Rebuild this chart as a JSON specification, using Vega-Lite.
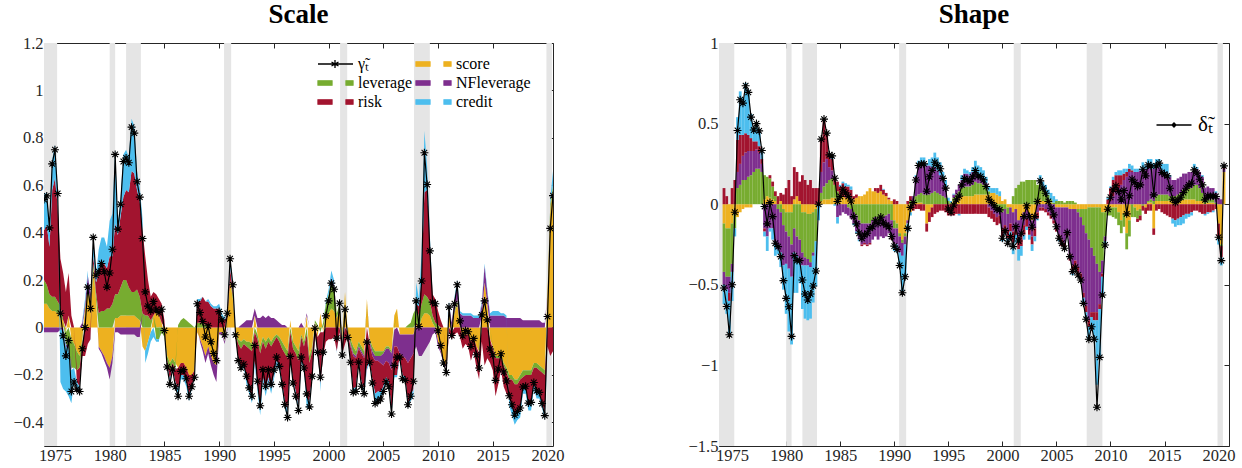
{
"$schema":"https://vega.github.io/schema/vega-lite/v6.json",
"background":"white",
"padding":{"left":12,"top":0,"right":12,"bottom":0},
"spacing":122,
"config":{
 "font":"Times New Roman, Liberation Serif, serif",
 "view":{"stroke":"#262626","strokeWidth":1},
 "axis":{"domain":false,"grid":false,"ticks":true,"tickSize":-5,"tickColor":"#262626","labelFont":"Times New Roman, Liberation Serif, serif","labelFontSize":16.5,"labelColor":"#262626","labelPadding":6},
 "title":{"font":"Times New Roman, Liberation Serif, serif","fontSize":27,"fontWeight":"bold","color":"black","offset":6}
},
"resolve":{"scale":{"color":"independent","stroke":"independent"},"legend":{"color":"independent","stroke":"independent"}},
"datasets":{
"comp":[{"k":"s","o":1,"name":"score"},{"k":"l","o":2,"name":"leverage"},{"k":"n","o":3,"name":"NFleverage"},{"k":"r","o":4,"name":"risk"},{"k":"c","o":5,"name":"credit"}],
"bands":[{"x0":1973.5,"x1":1975.2},{"x0":1980.0,"x1":1980.5},{"x0":1981.5,"x1":1982.85},{"x0":1990.45,"x1":1991.1},{"x0":2001.05,"x1":2001.7},{"x0":2007.8,"x1":2009.25},{"x0":2019.9,"x1":2020.4}],
"left":[
{"t":1974,"g":0.54,"s":0.1,"l":0.1,"n":-0.02,"r":0.21,"c":0.15},
{"t":1974.25,"g":0.555,"s":0.1,"l":0.08,"n":-0.02,"r":0.25,"c":0.14},
{"t":1974.5,"g":0.42,"s":0.08,"l":0.06,"n":-0.02,"r":0.2,"c":0.1},
{"t":1974.75,"g":0.69,"s":0.07,"l":0.06,"n":-0.02,"r":0.45,"c":0.13},
{"t":1975,"g":0.75,"s":0.07,"l":0.06,"n":-0.02,"r":0.5,"c":0.14},
{"t":1975.25,"g":0.565,"s":0.06,"l":0.05,"n":-0.02,"r":0.4,"c":0.07},
{"t":1975.5,"g":0.06,"s":0.04,"l":0.05,"n":-0.01,"r":0.2,"c":-0.22},
{"t":1975.75,"g":-0.035,"s":0.03,"l":0,"n":-0.01,"r":0.2,"c":-0.25},
{"t":1976,"g":-0.12,"s":-0.02,"l":-0.05,"n":-0.01,"r":0.15,"c":-0.19},
{"t":1976.25,"g":-0.055,"s":0.05,"l":-0.08,"n":-0.01,"r":0.18,"c":-0.2},
{"t":1976.5,"g":-0.27,"s":-0.05,"l":-0.12,"n":-0.01,"r":0.05,"c":-0.14},
{"t":1976.75,"g":-0.23,"s":-0.07,"l":-0.1,"n":0,"r":0,"c":-0.06},
{"t":1977,"g":-0.26,"s":-0.1,"l":-0.08,"n":0,"r":-0.05,"c":-0.03},
{"t":1977.25,"g":-0.27,"s":-0.12,"l":-0.05,"n":0,"r":-0.08,"c":-0.02},
{"t":1977.5,"g":-0.09,"s":-0.05,"l":-0.02,"n":0.02,"r":-0.05,"c":0.01},
{"t":1977.75,"g":0.0,"s":0.08,"l":0,"n":0.02,"r":-0.12,"c":0.02},
{"t":1978,"g":0.17,"s":0.17,"l":0,"n":0.05,"r":-0.07,"c":0.02},
{"t":1978.25,"g":0.08,"s":0.12,"l":0,"n":0.02,"r":-0.05,"c":-0.01},
{"t":1978.5,"g":0.38,"s":0.25,"l":0.02,"n":0,"r":0.03,"c":0.08},
{"t":1978.75,"g":0.22,"s":0.12,"l":0.03,"n":0,"r":0.04,"c":0.03},
{"t":1979,"g":0.235,"s":-0.08,"l":0.06,"n":-0.01,"r":0.17,"c":0.1},
{"t":1979.25,"g":0.27,"s":-0.1,"l":0.07,"n":-0.01,"r":0.2,"c":0.11},
{"t":1979.5,"g":0.235,"s":-0.12,"l":0.07,"n":-0.02,"r":0.2,"c":0.11},
{"t":1979.75,"g":0.17,"s":-0.15,"l":0.08,"n":-0.02,"r":0.17,"c":0.09},
{"t":1980,"g":0.23,"s":-0.17,"l":0.08,"n":-0.05,"r":0.22,"c":0.15},
{"t":1980.25,"g":0.33,"s":-0.12,"l":0.1,"n":-0.03,"r":0.2,"c":0.18},
{"t":1980.5,"g":0.73,"s":0.04,"l":0.1,"n":-0.02,"r":0.3,"c":0.31},
{"t":1980.75,"g":0.415,"s":0.04,"l":0.1,"n":-0.02,"r":0.25,"c":0.04},
{"t":1981,"g":0.52,"s":0.05,"l":0.12,"n":-0.03,"r":0.3,"c":0.08},
{"t":1981.25,"g":0.7,"s":0.05,"l":0.15,"n":-0.03,"r":0.35,"c":0.18},
{"t":1981.5,"g":0.715,"s":0.05,"l":0.15,"n":-0.03,"r":0.38,"c":0.17},
{"t":1981.75,"g":0.695,"s":0.05,"l":0.12,"n":-0.03,"r":0.4,"c":0.15},
{"t":1982,"g":0.845,"s":0.05,"l":0.1,"n":-0.03,"r":0.51,"c":0.22},
{"t":1982.25,"g":0.82,"s":0.05,"l":0.1,"n":-0.03,"r":0.5,"c":0.2},
{"t":1982.5,"g":0.615,"s":0.04,"l":0.12,"n":-0.04,"r":0.42,"c":0.08},
{"t":1982.75,"g":0.55,"s":0.03,"l":0.1,"n":-0.04,"r":0.4,"c":0.06},
{"t":1983,"g":0.375,"s":-0.08,"l":0.06,"n":0,"r":0.35,"c":0.05},
{"t":1983.25,"g":0.15,"s":-0.1,"l":0.05,"n":0,"r":0.25,"c":-0.05},
{"t":1983.5,"g":0.09,"s":-0.06,"l":0.05,"n":0,"r":0.15,"c":-0.05},
{"t":1983.75,"g":0.07,"s":-0.02,"l":0.03,"n":0,"r":0.1,"c":-0.04},
{"t":1984,"g":0.11,"s":0.05,"l":0,"n":0,"r":0.1,"c":-0.04},
{"t":1984.25,"g":0.075,"s":0.07,"l":-0.05,"n":0,"r":0.07,"c":-0.01},
{"t":1984.5,"g":0.063,"s":0.05,"l":-0.05,"n":0,"r":0.07,"c":-0.01},
{"t":1984.75,"g":0.077,"s":0.02,"l":-0.02,"n":0,"r":0.08,"c":0},
{"t":1985,"g":-0.013,"s":-0.03,"l":-0.01,"n":0,"r":0.03,"c":0},
{"t":1985.25,"g":-0.167,"s":-0.12,"l":-0.02,"n":0,"r":-0.02,"c":-0.01},
{"t":1985.5,"g":-0.24,"s":-0.15,"l":-0.03,"n":0,"r":-0.04,"c":-0.02},
{"t":1985.75,"g":-0.175,"s":-0.13,"l":-0.02,"n":0,"r":-0.02,"c":-0.01},
{"t":1986,"g":-0.25,"s":-0.15,"l":-0.03,"n":0,"r":-0.05,"c":-0.02},
{"t":1986.25,"g":-0.29,"s":-0.17,"l":0.01,"n":0,"r":-0.09,"c":-0.04},
{"t":1986.5,"g":-0.185,"s":-0.15,"l":0.03,"n":0,"r":-0.05,"c":-0.02},
{"t":1986.75,"g":-0.178,"s":-0.15,"l":0.04,"n":0,"r":-0.05,"c":-0.02},
{"t":1987,"g":-0.216,"s":-0.17,"l":0.03,"n":0,"r":-0.06,"c":-0.02},
{"t":1987.25,"g":-0.29,"s":-0.2,"l":0.02,"n":0,"r":-0.08,"c":-0.03},
{"t":1987.5,"g":-0.25,"s":-0.2,"l":0.01,"n":0,"r":-0.05,"c":-0.01},
{"t":1987.75,"g":-0.21,"s":-0.18,"l":0,"n":0,"r":-0.02,"c":-0.01},
{"t":1988,"g":0.1,"s":-0.02,"l":0.02,"n":0,"r":0.09,"c":0.01},
{"t":1988.25,"g":0.063,"s":-0.05,"l":0.02,"n":-0.01,"r":0.09,"c":0.01},
{"t":1988.5,"g":0.025,"s":-0.08,"l":0.02,"n":-0.02,"r":0.11,"c":0},
{"t":1988.75,"g":-0.04,"s":-0.12,"l":0.01,"n":-0.03,"r":0.1,"c":0},
{"t":1989,"g":0.007,"s":-0.08,"l":0.01,"n":-0.03,"r":0.1,"c":0.01},
{"t":1989.25,"g":-0.06,"s":-0.12,"l":0,"n":-0.04,"r":0.09,"c":0.01},
{"t":1989.5,"g":-0.11,"s":-0.15,"l":0,"n":-0.05,"r":0.08,"c":0.01},
{"t":1989.75,"g":-0.14,"s":-0.16,"l":0,"n":-0.07,"r":0.08,"c":0.01},
{"t":1990,"g":0.067,"s":-0.02,"l":0,"n":-0.01,"r":0.08,"c":0.02},
{"t":1990.25,"g":0.032,"s":-0.02,"l":0,"n":-0.01,"r":0.04,"c":0.02},
{"t":1990.5,"g":-0.031,"s":-0.05,"l":-0.01,"n":-0.01,"r":0.03,"c":0.01},
{"t":1990.75,"g":0.06,"s":0.05,"l":0,"n":-0.01,"r":0.01,"c":0.01},
{"t":1991,"g":0.29,"s":0.2,"l":0,"n":0,"r":0.05,"c":0.04},
{"t":1991.25,"g":0.18,"s":0.12,"l":0.02,"n":0,"r":0.02,"c":0.02},
{"t":1991.5,"g":-0.031,"s":-0.02,"l":-0.01,"n":0,"r":-0.01,"c":0},
{"t":1991.75,"g":-0.14,"s":-0.05,"l":-0.02,"n":0,"r":-0.06,"c":-0.01},
{"t":1992,"g":-0.17,"s":-0.06,"l":-0.03,"n":0.01,"r":-0.08,"c":-0.01},
{"t":1992.25,"g":-0.155,"s":-0.05,"l":-0.02,"n":0.02,"r":-0.09,"c":-0.01},
{"t":1992.5,"g":-0.206,"s":-0.06,"l":-0.02,"n":0.03,"r":-0.14,"c":-0.02},
{"t":1992.75,"g":-0.255,"s":-0.06,"l":-0.03,"n":0.03,"r":-0.17,"c":-0.02},
{"t":1993,"g":-0.29,"s":-0.07,"l":-0.03,"n":0.03,"r":-0.2,"c":-0.02},
{"t":1993.25,"g":-0.076,"s":0.05,"l":-0.02,"n":0.03,"r":-0.12,"c":-0.02},
{"t":1993.5,"g":-0.227,"s":-0.03,"l":-0.02,"n":0.04,"r":-0.2,"c":-0.02},
{"t":1993.75,"g":-0.33,"s":-0.08,"l":-0.03,"n":0.04,"r":-0.23,"c":-0.03},
{"t":1994,"g":-0.178,"s":-0.04,"l":-0.02,"n":0.05,"r":-0.15,"c":-0.02},
{"t":1994.25,"g":-0.248,"s":-0.06,"l":-0.03,"n":0.04,"r":-0.18,"c":-0.02},
{"t":1994.5,"g":-0.178,"s":-0.04,"l":-0.02,"n":0.05,"r":-0.15,"c":-0.02},
{"t":1994.75,"g":-0.24,"s":-0.06,"l":-0.02,"n":0.04,"r":-0.18,"c":-0.02},
{"t":1995,"g":-0.18,"s":-0.04,"l":-0.02,"n":0.04,"r":-0.14,"c":-0.02},
{"t":1995.25,"g":-0.125,"s":-0.03,"l":-0.01,"n":0.03,"r":-0.1,"c":-0.02},
{"t":1995.5,"g":-0.164,"s":-0.04,"l":-0.02,"n":0.02,"r":-0.1,"c":-0.02},
{"t":1995.75,"g":-0.24,"s":-0.06,"l":-0.03,"n":0.01,"r":-0.14,"c":-0.02},
{"t":1996,"g":-0.325,"s":-0.08,"l":-0.03,"n":0.01,"r":-0.2,"c":-0.03},
{"t":1996.25,"g":-0.38,"s":-0.1,"l":-0.03,"n":0,"r":-0.22,"c":-0.03},
{"t":1996.5,"g":-0.122,"s":0.03,"l":-0.02,"n":0,"r":-0.12,"c":-0.01},
{"t":1996.75,"g":-0.234,"s":-0.06,"l":-0.03,"n":0,"r":-0.13,"c":-0.01},
{"t":1997,"g":-0.29,"s":-0.08,"l":-0.03,"n":0,"r":-0.16,"c":-0.02},
{"t":1997.25,"g":-0.35,"s":-0.1,"l":-0.04,"n":0,"r":-0.19,"c":-0.02},
{"t":1997.5,"g":-0.125,"s":-0.03,"l":-0.01,"n":0.02,"r":-0.1,"c":-0.01},
{"t":1997.75,"g":-0.171,"s":-0.06,"l":-0.02,"n":0,"r":-0.08,"c":-0.01},
{"t":1998,"g":-0.28,"s":0.05,"l":-0.03,"n":0.01,"r":-0.27,"c":-0.04},
{"t":1998.25,"g":-0.335,"s":-0.12,"l":-0.03,"n":0,"r":-0.16,"c":-0.03},
{"t":1998.5,"g":-0.206,"s":-0.08,"l":-0.02,"n":0,"r":-0.1,"c":-0.01},
{"t":1998.75,"g":-0.003,"s":0.02,"l":0.01,"n":0,"r":-0.03,"c":0},
{"t":1999,"g":-0.105,"s":-0.04,"l":0.01,"n":0,"r":-0.07,"c":0},
{"t":1999.25,"g":-0.21,"s":0.06,"l":-0.02,"n":0,"r":-0.22,"c":-0.03},
{"t":1999.5,"g":-0.104,"s":-0.02,"l":0.02,"n":0,"r":-0.1,"c":0},
{"t":1999.75,"g":0.049,"s":0.05,"l":0.05,"n":0,"r":-0.06,"c":0.01},
{"t":2000,"g":0.112,"s":0.06,"l":0.08,"n":0,"r":-0.05,"c":0.02},
{"t":2000.25,"g":0.187,"s":0.08,"l":0.12,"n":0.01,"r":-0.05,"c":0.03},
{"t":2000.5,"g":0.161,"s":0.07,"l":0.1,"n":0.01,"r":-0.04,"c":0.02},
{"t":2000.75,"g":-0.045,"s":0.04,"l":0.02,"n":0,"r":-0.1,"c":-0.01},
{"t":2001,"g":0.102,"s":0.08,"l":0.02,"n":0,"r":-0.02,"c":0.02},
{"t":2001.25,"g":-0.116,"s":-0.04,"l":-0.02,"n":-0.01,"r":-0.04,"c":-0.01},
{"t":2001.5,"g":0.077,"s":0.15,"l":0,"n":0,"r":-0.07,"c":0},
{"t":2001.75,"g":-0.042,"s":-0.02,"l":0,"n":0,"r":-0.02,"c":0},
{"t":2002,"g":-0.147,"s":-0.05,"l":-0.02,"n":-0.01,"r":-0.06,"c":-0.01},
{"t":2002.25,"g":-0.274,"s":-0.08,"l":-0.03,"n":-0.01,"r":-0.14,"c":-0.02},
{"t":2002.5,"g":-0.27,"s":-0.1,"l":-0.02,"n":-0.01,"r":-0.12,"c":-0.02},
{"t":2002.75,"g":-0.146,"s":-0.06,"l":-0.02,"n":-0.01,"r":-0.05,"c":-0.01},
{"t":2003,"g":-0.248,"s":-0.08,"l":-0.02,"n":-0.01,"r":-0.12,"c":-0.02},
{"t":2003.25,"g":-0.279,"s":-0.1,"l":-0.02,"n":-0.01,"r":-0.13,"c":-0.02},
{"t":2003.5,"g":-0.062,"s":0.12,"l":0,"n":0,"r":-0.17,"c":-0.01},
{"t":2003.75,"g":-0.147,"s":-0.05,"l":-0.01,"n":-0.01,"r":-0.07,"c":-0.01},
{"t":2004,"g":-0.234,"s":-0.08,"l":-0.02,"n":-0.02,"r":-0.1,"c":-0.01},
{"t":2004.25,"g":-0.321,"s":-0.1,"l":-0.02,"n":-0.02,"r":-0.14,"c":-0.04},
{"t":2004.5,"g":-0.31,"s":-0.1,"l":-0.02,"n":-0.02,"r":-0.13,"c":-0.04},
{"t":2004.75,"g":-0.302,"s":-0.1,"l":-0.02,"n":-0.03,"r":-0.12,"c":-0.03},
{"t":2005,"g":-0.27,"s":-0.1,"l":-0.01,"n":-0.05,"r":-0.09,"c":-0.02},
{"t":2005.25,"g":-0.229,"s":-0.08,"l":-0.01,"n":-0.05,"r":-0.07,"c":-0.02},
{"t":2005.5,"g":-0.25,"s":-0.08,"l":-0.01,"n":-0.06,"r":-0.08,"c":-0.02},
{"t":2005.75,"g":-0.365,"s":-0.1,"l":-0.01,"n":-0.07,"r":-0.17,"c":-0.02},
{"t":2006,"g":-0.16,"s":0.05,"l":-0.01,"n":-0.07,"r":-0.12,"c":-0.01},
{"t":2006.25,"g":-0.125,"s":0.08,"l":0,"n":-0.08,"r":-0.12,"c":-0.01},
{"t":2006.5,"g":-0.125,"s":-0.03,"l":0,"n":-0.08,"r":-0.01,"c":-0.01},
{"t":2006.75,"g":-0.216,"s":-0.03,"l":0,"n":-0.09,"r":-0.08,"c":-0.02},
{"t":2007,"g":-0.223,"s":-0.03,"l":0,"n":-0.1,"r":-0.08,"c":-0.01},
{"t":2007.25,"g":-0.326,"s":-0.03,"l":0.01,"n":-0.12,"r":-0.17,"c":-0.02},
{"t":2007.5,"g":-0.29,"s":-0.03,"l":0.02,"n":-0.1,"r":-0.16,"c":-0.02},
{"t":2007.75,"g":-0.227,"s":-0.03,"l":0.06,"n":-0.08,"r":-0.15,"c":-0.03},
{"t":2008,"g":0.112,"s":0.02,"l":0.06,"n":-0.08,"r":0.02,"c":0.09},
{"t":2008.25,"g":0.004,"s":0,"l":0.05,"n":-0.12,"r":0.04,"c":0.03},
{"t":2008.5,"g":0.196,"s":0.04,"l":0.06,"n":-0.12,"r":0.12,"c":0.1},
{"t":2008.75,"g":0.737,"s":0.06,"l":0.08,"n":-0.1,"r":0.43,"c":0.26},
{"t":2009,"g":0.603,"s":0.06,"l":0.07,"n":-0.08,"r":0.45,"c":0.1},
{"t":2009.25,"g":0.323,"s":0.05,"l":0.06,"n":-0.06,"r":0.25,"c":0.03},
{"t":2009.5,"g":0.107,"s":0.02,"l":0.03,"n":-0.03,"r":0.09,"c":0},
{"t":2009.75,"g":0.1,"s":0,"l":0.02,"n":-0.02,"r":0.1,"c":0},
{"t":2010,"g":-0.014,"s":-0.06,"l":0.01,"n":-0.02,"r":0.06,"c":0},
{"t":2010.25,"g":-0.076,"s":-0.1,"l":0,"n":-0.01,"r":0.03,"c":0},
{"t":2010.5,"g":-0.15,"s":-0.14,"l":0,"n":-0.01,"r":0,"c":0},
{"t":2010.75,"g":-0.19,"s":-0.16,"l":0,"n":-0.01,"r":-0.02,"c":0},
{"t":2011,"g":0.086,"s":0.08,"l":0,"n":0.02,"r":-0.02,"c":0.01},
{"t":2011.25,"g":-0.034,"s":-0.02,"l":0,"n":0.02,"r":-0.03,"c":0},
{"t":2011.5,"g":0.1,"s":0.06,"l":0.01,"n":0.05,"r":-0.03,"c":0.01},
{"t":2011.75,"g":0.18,"s":0.1,"l":0.02,"n":0.06,"r":-0.02,"c":0.02},
{"t":2012,"g":0.028,"s":0,"l":0,"n":0.06,"r":-0.04,"c":0.01},
{"t":2012.25,"g":-0.035,"s":-0.04,"l":0,"n":0.05,"r":-0.05,"c":0.01},
{"t":2012.5,"g":-0.013,"s":-0.03,"l":0,"n":0.05,"r":-0.04,"c":0.01},
{"t":2012.75,"g":-0.018,"s":-0.03,"l":0,"n":0.05,"r":-0.05,"c":0.01},
{"t":2013,"g":-0.08,"s":-0.06,"l":0,"n":0.05,"r":-0.08,"c":0.01},
{"t":2013.25,"g":-0.046,"s":-0.04,"l":0,"n":0.04,"r":-0.06,"c":0.01},
{"t":2013.5,"g":-0.115,"s":-0.08,"l":0,"n":0.04,"r":-0.09,"c":0.01},
{"t":2013.75,"g":-0.171,"s":-0.1,"l":-0.01,"n":0.04,"r":-0.11,"c":0.01},
{"t":2014,"g":0.053,"s":0.05,"l":0,"n":0.05,"r":-0.06,"c":0.01},
{"t":2014.25,"g":0.112,"s":0.19,"l":0,"n":0.07,"r":-0.16,"c":0.01},
{"t":2014.5,"g":0.032,"s":0.1,"l":0,"n":0.05,"r":-0.13,"c":0.01},
{"t":2014.75,"g":-0.091,"s":-0.05,"l":0,"n":0.05,"r":-0.1,"c":0.01},
{"t":2015,"g":-0.115,"s":-0.08,"l":-0.01,"n":0.05,"r":-0.09,"c":0.02},
{"t":2015.25,"g":-0.223,"s":-0.12,"l":-0.01,"n":0.05,"r":-0.16,"c":0.02},
{"t":2015.5,"g":-0.175,"s":-0.12,"l":-0.01,"n":0.05,"r":-0.11,"c":0.02},
{"t":2015.75,"g":-0.111,"s":-0.12,"l":-0.01,"n":0.05,"r":-0.05,"c":0.01},
{"t":2016,"g":-0.188,"s":-0.15,"l":-0.01,"n":0.05,"r":-0.09,"c":0.01},
{"t":2016.25,"g":-0.226,"s":-0.17,"l":-0.02,"n":0.04,"r":-0.09,"c":0.01},
{"t":2016.5,"g":-0.288,"s":-0.2,"l":-0.02,"n":0.04,"r":-0.08,"c":-0.03},
{"t":2016.75,"g":-0.326,"s":-0.2,"l":-0.02,"n":0.04,"r":-0.11,"c":-0.04},
{"t":2017,"g":-0.37,"s":-0.22,"l":-0.02,"n":0.04,"r":-0.13,"c":-0.04},
{"t":2017.25,"g":-0.354,"s":-0.22,"l":-0.02,"n":0.04,"r":-0.12,"c":-0.03},
{"t":2017.5,"g":-0.34,"s":-0.2,"l":-0.02,"n":0.04,"r":-0.13,"c":-0.03},
{"t":2017.75,"g":-0.251,"s":-0.18,"l":-0.03,"n":0.03,"r":-0.05,"c":-0.02},
{"t":2018,"g":-0.248,"s":-0.18,"l":-0.02,"n":0.03,"r":-0.06,"c":-0.02},
{"t":2018.25,"g":-0.319,"s":-0.18,"l":-0.02,"n":0.03,"r":-0.12,"c":-0.03},
{"t":2018.5,"g":-0.316,"s":-0.18,"l":-0.02,"n":0.03,"r":-0.12,"c":-0.03},
{"t":2018.75,"g":-0.232,"s":-0.15,"l":-0.02,"n":0.03,"r":-0.07,"c":-0.02},
{"t":2019,"g":-0.267,"s":-0.15,"l":-0.02,"n":0.03,"r":-0.1,"c":-0.03},
{"t":2019.25,"g":-0.274,"s":-0.16,"l":-0.02,"n":0.03,"r":-0.1,"c":-0.02},
{"t":2019.5,"g":-0.321,"s":-0.17,"l":-0.02,"n":0.02,"r":-0.13,"c":-0.02},
{"t":2019.75,"g":-0.372,"s":-0.18,"l":-0.02,"n":0.02,"r":-0.16,"c":-0.03},
{"t":2020,"g":0.046,"s":0.15,"l":0,"n":0,"r":-0.08,"c":-0.02},
{"t":2020.25,"g":0.418,"s":0.5,"l":0.02,"n":0,"r":-0.12,"c":0.02},
{"t":2020.5,"g":0.556,"s":0.58,"l":0.02,"n":0,"r":-0.1,"c":0.06}
],
"right":[
{"t":1974.25,"d":-0.52,"s":-0.12,"l":-0.3,"n":-0.08,"r":0.1,"c":-0.12},
{"t":1974.5,"d":-0.635,"s":-0.15,"l":-0.3,"n":-0.08,"r":0.05,"c":-0.15},
{"t":1974.75,"d":-0.81,"s":-0.15,"l":-0.3,"n":-0.1,"r":-0.05,"c":-0.2},
{"t":1975,"d":-0.5,"s":-0.12,"l":-0.25,"n":-0.05,"r":0.1,"c":-0.18},
{"t":1975.25,"d":-0.05,"s":-0.05,"l":-0.1,"n":0,"r":0.15,"c":-0.05},
{"t":1975.5,"d":0.457,"s":-0.08,"l":0.1,"n":0.1,"r":0.2,"c":0.14},
{"t":1975.75,"d":0.648,"s":-0.05,"l":0.12,"n":0.13,"r":0.18,"c":0.27},
{"t":1976,"d":0.627,"s":-0.03,"l":0.15,"n":0.15,"r":0.13,"c":0.23},
{"t":1976.25,"d":0.735,"s":-0.02,"l":0.15,"n":0.17,"r":0.12,"c":0.31},
{"t":1976.5,"d":0.694,"s":-0.02,"l":0.17,"n":0.16,"r":0.1,"c":0.28},
{"t":1976.75,"d":0.54,"s":-0.02,"l":0.18,"n":0.15,"r":0.08,"c":0.15},
{"t":1977,"d":0.46,"s":0,"l":0.2,"n":0.13,"r":0.06,"c":0.07},
{"t":1977.25,"d":0.5,"s":0,"l":0.22,"n":0.12,"r":0.05,"c":0.11},
{"t":1977.5,"d":0.455,"s":0,"l":0.22,"n":0.1,"r":0.04,"c":0.09},
{"t":1977.75,"d":0.333,"s":0,"l":0.2,"n":0.05,"r":0.03,"c":0.05},
{"t":1978,"d":-0.014,"s":0.03,"l":0.15,"n":-0.15,"r":-0.02,"c":-0.03},
{"t":1978.25,"d":-0.122,"s":0.05,"l":0.12,"n":-0.2,"r":0,"c":-0.09},
{"t":1978.5,"d":0.01,"s":0.04,"l":0.12,"n":-0.15,"r":0.02,"c":-0.02},
{"t":1978.75,"d":-0.077,"s":0.03,"l":0.08,"n":-0.15,"r":0.03,"c":-0.07},
{"t":1979,"d":-0.242,"s":0.02,"l":0.03,"n":-0.25,"r":0.03,"c":-0.07},
{"t":1979.25,"d":-0.263,"s":0,"l":-0.03,"n":-0.25,"r":0.05,"c":-0.03},
{"t":1979.5,"d":-0.325,"s":0.02,"l":-0.05,"n":-0.25,"r":0.05,"c":-0.09},
{"t":1979.75,"d":-0.474,"s":-0.03,"l":-0.1,"n":-0.25,"r":0.06,"c":-0.15},
{"t":1980,"d":-0.584,"s":-0.05,"l":-0.12,"n":-0.2,"r":0.1,"c":-0.31},
{"t":1980.25,"d":-0.636,"s":-0.05,"l":-0.15,"n":-0.2,"r":0.15,"c":-0.39},
{"t":1980.5,"d":-0.82,"s":-0.05,"l":-0.2,"n":-0.2,"r":0.05,"c":-0.42},
{"t":1980.75,"d":-0.319,"s":0.03,"l":-0.15,"n":-0.15,"r":0.2,"c":-0.25},
{"t":1981,"d":-0.35,"s":0.05,"l":-0.2,"n":-0.12,"r":0.15,"c":-0.23},
{"t":1981.25,"d":-0.35,"s":0.02,"l":-0.22,"n":-0.12,"r":0.12,"c":-0.15},
{"t":1981.5,"d":-0.47,"s":-0.05,"l":-0.25,"n":-0.08,"r":0.18,"c":-0.27},
{"t":1981.75,"d":-0.557,"s":-0.05,"l":-0.28,"n":-0.05,"r":0.15,"c":-0.33},
{"t":1982,"d":-0.594,"s":-0.06,"l":-0.28,"n":-0.04,"r":0.12,"c":-0.34},
{"t":1982.25,"d":-0.557,"s":-0.06,"l":-0.3,"n":-0.03,"r":0.15,"c":-0.32},
{"t":1982.5,"d":-0.507,"s":-0.05,"l":-0.25,"n":-0.02,"r":0.1,"c":-0.29},
{"t":1982.75,"d":-0.414,"s":-0.03,"l":-0.2,"n":0,"r":0.1,"c":-0.28},
{"t":1983,"d":0,"s":0,"l":0,"n":0,"r":0.1,"c":-0.1},
{"t":1983.25,"d":0.404,"s":0.02,"l":0.05,"n":0.13,"r":0.2,"c":0},
{"t":1983.5,"d":0.528,"s":0.03,"l":0.08,"n":0.15,"r":0.27,"c":0},
{"t":1983.75,"d":0.441,"s":0.03,"l":0.1,"n":0.15,"r":0.16,"c":0},
{"t":1984,"d":0.306,"s":0.03,"l":0.12,"n":0.08,"r":0.08,"c":0},
{"t":1984.25,"d":0.3,"s":0.04,"l":0.12,"n":0.05,"r":0.07,"c":0.02},
{"t":1984.5,"d":0.161,"s":0.04,"l":0.08,"n":0,"r":0.05,"c":-0.01},
{"t":1984.75,"d":0.017,"s":0.03,"l":0.05,"n":-0.08,"r":0.06,"c":-0.04},
{"t":1985,"d":0.048,"s":0.04,"l":0.02,"n":-0.07,"r":0.05,"c":0.01},
{"t":1985.25,"d":0.093,"s":0.05,"l":0,"n":-0.05,"r":0.08,"c":0.01},
{"t":1985.5,"d":0.07,"s":0.04,"l":0,"n":-0.06,"r":0.07,"c":0.02},
{"t":1985.75,"d":0.048,"s":0.05,"l":-0.02,"n":-0.05,"r":0.06,"c":0.01},
{"t":1986,"d":0.02,"s":0.04,"l":-0.03,"n":-0.06,"r":0.05,"c":0.02},
{"t":1986.25,"d":-0.077,"s":0.03,"l":-0.05,"n":-0.07,"r":0.02,"c":-0.01},
{"t":1986.5,"d":-0.122,"s":0.04,"l":-0.07,"n":-0.1,"r":0.02,"c":-0.01},
{"t":1986.75,"d":-0.18,"s":0.05,"l":-0.1,"n":-0.12,"r":0,"c":-0.01},
{"t":1987,"d":-0.211,"s":0.05,"l":-0.12,"n":-0.13,"r":-0.01,"c":0},
{"t":1987.25,"d":-0.19,"s":0.06,"l":-0.12,"n":-0.12,"r":-0.01,"c":0},
{"t":1987.5,"d":-0.18,"s":0.08,"l":-0.12,"n":-0.13,"r":-0.01,"c":0},
{"t":1987.75,"d":-0.15,"s":0.1,"l":-0.12,"n":-0.12,"r":-0.01,"c":0},
{"t":1988,"d":-0.14,"s":0.08,"l":-0.1,"n":-0.12,"r":0,"c":0},
{"t":1988.25,"d":-0.1,"s":0.08,"l":-0.08,"n":-0.12,"r":0.02,"c":0},
{"t":1988.5,"d":-0.12,"s":0.07,"l":-0.1,"n":-0.12,"r":0.03,"c":0},
{"t":1988.75,"d":-0.08,"s":0.08,"l":-0.08,"n":-0.12,"r":0.04,"c":0},
{"t":1989,"d":-0.115,"s":0.06,"l":-0.08,"n":-0.13,"r":0.03,"c":0.005},
{"t":1989.25,"d":-0.13,"s":0.05,"l":-0.07,"n":-0.13,"r":0.02,"c":0},
{"t":1989.5,"d":-0.14,"s":0.03,"l":-0.06,"n":-0.12,"r":0.01,"c":0},
{"t":1989.75,"d":-0.2,"s":0.02,"l":-0.1,"n":-0.1,"r":-0.02,"c":0},
{"t":1990,"d":-0.26,"s":-0.1,"l":-0.05,"n":-0.1,"r":0.03,"c":-0.04},
{"t":1990.25,"d":-0.28,"s":-0.12,"l":-0.03,"n":-0.1,"r":0.02,"c":-0.05},
{"t":1990.5,"d":-0.38,"s":-0.18,"l":-0.02,"n":-0.1,"r":0,"c":-0.08},
{"t":1990.75,"d":-0.549,"s":-0.22,"l":-0.02,"n":-0.08,"r":0,"c":-0.23},
{"t":1991,"d":-0.45,"s":-0.18,"l":-0.02,"n":-0.05,"r":0,"c":-0.2},
{"t":1991.25,"d":-0.15,"s":-0.1,"l":0,"n":-0.02,"r":0.02,"c":-0.05},
{"t":1991.5,"d":-0.02,"s":-0.05,"l":0.02,"n":0,"r":0.03,"c":-0.02},
{"t":1991.75,"d":0.01,"s":0,"l":0.02,"n":0.03,"r":-0.04,"c":0},
{"t":1992,"d":0.15,"s":0.01,"l":0.04,"n":0.12,"r":-0.03,"c":0.01},
{"t":1992.25,"d":0.24,"s":0.01,"l":0.05,"n":0.18,"r":-0.03,"c":0.03},
{"t":1992.5,"d":0.25,"s":0.01,"l":0.06,"n":0.18,"r":-0.04,"c":0.04},
{"t":1992.75,"d":0.25,"s":0,"l":0.06,"n":0.18,"r":-0.04,"c":0.05},
{"t":1993,"d":0.08,"s":-0.12,"l":0.06,"n":0.18,"r":-0.05,"c":0.01},
{"t":1993.25,"d":0.17,"s":-0.05,"l":0.06,"n":0.18,"r":-0.06,"c":0.04},
{"t":1993.5,"d":0.21,"s":-0.02,"l":0.07,"n":0.16,"r":-0.06,"c":0.06},
{"t":1993.75,"d":0.26,"s":0,"l":0.08,"n":0.15,"r":-0.06,"c":0.09},
{"t":1994,"d":0.24,"s":0,"l":0.07,"n":0.14,"r":-0.05,"c":0.08},
{"t":1994.25,"d":0.22,"s":0,"l":0.06,"n":0.12,"r":-0.04,"c":0.08},
{"t":1994.5,"d":0.16,"s":0,"l":0.05,"n":0.1,"r":-0.04,"c":0.05},
{"t":1994.75,"d":0.1,"s":0,"l":0.04,"n":0.06,"r":-0.05,"c":0.05},
{"t":1995,"d":-0.03,"s":0,"l":0.02,"n":0,"r":-0.07,"c":0.02},
{"t":1995.25,"d":-0.05,"s":0,"l":0.01,"n":0,"r":-0.07,"c":0.01},
{"t":1995.5,"d":-0.005,"s":0.02,"l":0.02,"n":0.02,"r":-0.07,"c":0.005},
{"t":1995.75,"d":0.027,"s":0.03,"l":0.03,"n":0.03,"r":-0.06,"c":0},
{"t":1996,"d":0.05,"s":0.04,"l":0.04,"n":0.04,"r":-0.06,"c":-0.01},
{"t":1996.25,"d":0.12,"s":0.05,"l":0.05,"n":0.05,"r":-0.06,"c":0.03},
{"t":1996.5,"d":0.16,"s":0.05,"l":0.06,"n":0.08,"r":-0.06,"c":0.03},
{"t":1996.75,"d":0.15,"s":0.05,"l":0.06,"n":0.08,"r":-0.06,"c":0.02},
{"t":1997,"d":0.14,"s":0.05,"l":0.06,"n":0.07,"r":-0.06,"c":0.02},
{"t":1997.25,"d":0.17,"s":0.05,"l":0.07,"n":0.08,"r":-0.06,"c":0.03},
{"t":1997.5,"d":0.209,"s":0.06,"l":0.08,"n":0.06,"r":-0.06,"c":0.07},
{"t":1997.75,"d":0.176,"s":0.06,"l":0.07,"n":0.05,"r":-0.06,"c":0.06},
{"t":1998,"d":0.172,"s":0.06,"l":0.07,"n":0.05,"r":-0.06,"c":0.05},
{"t":1998.25,"d":0.151,"s":0.06,"l":0.06,"n":0.04,"r":-0.06,"c":0.05},
{"t":1998.5,"d":0.11,"s":0.06,"l":0.05,"n":0.02,"r":-0.06,"c":0.04},
{"t":1998.75,"d":0.031,"s":0.06,"l":0.02,"n":-0.02,"r":-0.06,"c":0.03},
{"t":1999,"d":0.01,"s":0.07,"l":0,"n":-0.04,"r":-0.05,"c":0.03},
{"t":1999.25,"d":-0.01,"s":0.07,"l":-0.02,"n":-0.04,"r":-0.05,"c":0.03},
{"t":1999.5,"d":-0.031,"s":0.06,"l":-0.03,"n":-0.05,"r":-0.05,"c":0.04},
{"t":1999.75,"d":-0.035,"s":0.05,"l":-0.02,"n":-0.05,"r":-0.05,"c":0.03},
{"t":2000,"d":-0.211,"s":0.02,"l":-0.05,"n":-0.1,"r":-0.06,"c":-0.02},
{"t":2000.25,"d":-0.164,"s":0.03,"l":-0.03,"n":-0.1,"r":-0.05,"c":-0.01},
{"t":2000.5,"d":-0.242,"s":-0.02,"l":-0.04,"n":-0.1,"r":-0.05,"c":-0.03},
{"t":2000.75,"d":-0.2,"s":-0.02,"l":0,"n":-0.1,"r":-0.05,"c":-0.03},
{"t":2001,"d":-0.263,"s":-0.05,"l":0.05,"n":-0.12,"r":-0.07,"c":-0.07},
{"t":2001.25,"d":-0.139,"s":-0.03,"l":0.1,"n":-0.1,"r":-0.06,"c":-0.05},
{"t":2001.5,"d":-0.228,"s":-0.1,"l":0.12,"n":-0.1,"r":-0.08,"c":-0.07},
{"t":2001.75,"d":-0.18,"s":-0.08,"l":0.14,"n":-0.1,"r":-0.08,"c":-0.06},
{"t":2002,"d":-0.077,"s":-0.05,"l":0.14,"n":-0.08,"r":-0.06,"c":-0.03},
{"t":2002.25,"d":-0.01,"s":-0.02,"l":0.15,"n":-0.07,"r":-0.05,"c":-0.02},
{"t":2002.5,"d":-0.077,"s":-0.06,"l":0.15,"n":-0.08,"r":-0.05,"c":-0.03},
{"t":2002.75,"d":-0.143,"s":-0.1,"l":0.15,"n":-0.1,"r":-0.05,"c":-0.04},
{"t":2003,"d":-0.077,"s":-0.08,"l":0.15,"n":-0.07,"r":-0.05,"c":-0.03},
{"t":2003.25,"d":0.017,"s":0,"l":0.12,"n":-0.05,"r":-0.04,"c":-0.01},
{"t":2003.5,"d":0.145,"s":0.03,"l":0.1,"n":-0.02,"r":-0.02,"c":0.05},
{"t":2003.75,"d":0.1,"s":0.02,"l":0.08,"n":-0.02,"r":-0.02,"c":0.04},
{"t":2004,"d":0.068,"s":0.02,"l":0.06,"n":-0.03,"r":-0.02,"c":0.04},
{"t":2004.25,"d":0.017,"s":0.03,"l":0.03,"n":-0.05,"r":-0.02,"c":0.03},
{"t":2004.5,"d":-0.025,"s":0.01,"l":0.02,"n":-0.07,"r":-0.02,"c":0.04},
{"t":2004.75,"d":-0.066,"s":0,"l":0.01,"n":-0.1,"r":-0.02,"c":0.04},
{"t":2005,"d":-0.14,"s":-0.02,"l":0.02,"n":-0.12,"r":-0.03,"c":0.01},
{"t":2005.25,"d":-0.211,"s":-0.02,"l":0.02,"n":-0.17,"r":-0.03,"c":-0.01},
{"t":2005.5,"d":-0.242,"s":-0.02,"l":0.02,"n":-0.2,"r":-0.04,"c":0},
{"t":2005.75,"d":-0.273,"s":-0.02,"l":0.01,"n":-0.22,"r":-0.04,"c":0},
{"t":2006,"d":-0.176,"s":-0.02,"l":0.02,"n":-0.15,"r":-0.03,"c":0},
{"t":2006.25,"d":-0.325,"s":-0.03,"l":0.02,"n":-0.28,"r":-0.04,"c":0},
{"t":2006.5,"d":-0.418,"s":-0.03,"l":0.02,"n":-0.35,"r":-0.05,"c":-0.01},
{"t":2006.75,"d":-0.391,"s":-0.03,"l":0.01,"n":-0.32,"r":-0.05,"c":0},
{"t":2007,"d":-0.439,"s":-0.03,"l":-0.02,"n":-0.34,"r":-0.05,"c":0},
{"t":2007.25,"d":-0.47,"s":-0.03,"l":-0.05,"n":-0.35,"r":-0.04,"c":0},
{"t":2007.5,"d":-0.615,"s":-0.03,"l":-0.1,"n":-0.42,"r":-0.03,"c":-0.03},
{"t":2007.75,"d":-0.714,"s":-0.03,"l":-0.15,"n":-0.45,"r":-0.04,"c":-0.04},
{"t":2008,"d":-0.838,"s":-0.02,"l":-0.2,"n":-0.5,"r":-0.04,"c":-0.08},
{"t":2008.25,"d":-0.76,"s":-0.02,"l":-0.25,"n":-0.4,"r":-0.03,"c":-0.06},
{"t":2008.5,"d":-0.838,"s":-0.02,"l":-0.3,"n":-0.35,"r":-0.05,"c":-0.12},
{"t":2008.75,"d":-1.26,"s":-0.02,"l":-0.35,"n":-0.3,"r":-0.05,"c":-0.4},
{"t":2009,"d":-0.95,"s":-0.02,"l":-0.4,"n":-0.2,"r":-0.03,"c":-0.3},
{"t":2009.25,"d":-0.563,"s":-0.05,"l":-0.3,"n":-0.08,"r":-0.02,"c":-0.11},
{"t":2009.5,"d":-0.253,"s":-0.05,"l":-0.15,"n":-0.03,"r":0,"c":-0.02},
{"t":2009.75,"d":-0.031,"s":-0.02,"l":-0.05,"n":0,"r":0.03,"c":0.01},
{"t":2010,"d":0.043,"s":-0.02,"l":-0.05,"n":0.02,"r":0.08,"c":0.01},
{"t":2010.25,"d":0.089,"s":-0.02,"l":-0.06,"n":0.05,"r":0.1,"c":0.02},
{"t":2010.5,"d":0.114,"s":-0.02,"l":-0.07,"n":0.08,"r":0.1,"c":0.02},
{"t":2010.75,"d":0.079,"s":-0.05,"l":-0.08,"n":0.1,"r":0.08,"c":0.03},
{"t":2011,"d":0.027,"s":-0.1,"l":-0.08,"n":0.12,"r":0.06,"c":0.03},
{"t":2011.25,"d":0.085,"s":-0.06,"l":-0.08,"n":0.15,"r":0.04,"c":0.03},
{"t":2011.5,"d":-0.06,"s":-0.18,"l":-0.1,"n":0.17,"r":0.03,"c":0.02},
{"t":2011.75,"d":0.052,"s":-0.1,"l":-0.1,"n":0.2,"r":0.02,"c":0.03},
{"t":2012,"d":0.155,"s":0,"l":-0.08,"n":0.2,"r":0.01,"c":0.03},
{"t":2012.25,"d":0.135,"s":-0.02,"l":-0.06,"n":0.2,"r":0,"c":0.02},
{"t":2012.5,"d":0.11,"s":-0.04,"l":-0.05,"n":0.2,"r":-0.02,"c":0.02},
{"t":2012.75,"d":0.12,"s":-0.03,"l":-0.04,"n":0.21,"r":-0.03,"c":0.01},
{"t":2013,"d":0.217,"s":0,"l":-0.01,"n":0.22,"r":-0.03,"c":0.04},
{"t":2013.25,"d":0.176,"s":-0.02,"l":0,"n":0.22,"r":-0.04,"c":0.02},
{"t":2013.5,"d":0.244,"s":0.01,"l":0.01,"n":0.22,"r":-0.04,"c":0.04},
{"t":2013.75,"d":0.238,"s":0.01,"l":0.02,"n":0.21,"r":-0.04,"c":0.04},
{"t":2014,"d":0.058,"s":-0.15,"l":0.02,"n":0.2,"r":-0.04,"c":0.03},
{"t":2014.25,"d":0.238,"s":0.02,"l":0.03,"n":0.18,"r":-0.04,"c":0.05},
{"t":2014.5,"d":0.255,"s":0.02,"l":0.04,"n":0.17,"r":-0.03,"c":0.05},
{"t":2014.75,"d":0.197,"s":0.02,"l":0.04,"n":0.15,"r":-0.05,"c":0.04},
{"t":2015,"d":0.186,"s":0.02,"l":0.04,"n":0.14,"r":-0.06,"c":0.05},
{"t":2015.25,"d":0.176,"s":0.02,"l":0.04,"n":0.13,"r":-0.07,"c":0.06},
{"t":2015.5,"d":0.099,"s":0.02,"l":0.03,"n":0.12,"r":-0.08,"c":0.01},
{"t":2015.75,"d":0.031,"s":0.02,"l":0.03,"n":0.1,"r":-0.09,"c":-0.03},
{"t":2016,"d":0.01,"s":0.02,"l":0.03,"n":0.1,"r":-0.1,"c":-0.04},
{"t":2016.25,"d":0.027,"s":0.02,"l":0.04,"n":0.1,"r":-0.09,"c":-0.04},
{"t":2016.5,"d":0.043,"s":0.02,"l":0.05,"n":0.1,"r":-0.08,"c":-0.05},
{"t":2016.75,"d":0.072,"s":0.03,"l":0.06,"n":0.1,"r":-0.07,"c":-0.05},
{"t":2017,"d":0.099,"s":0.03,"l":0.06,"n":0.1,"r":-0.06,"c":-0.03},
{"t":2017.25,"d":0.12,"s":0.03,"l":0.07,"n":0.1,"r":-0.06,"c":-0.02},
{"t":2017.5,"d":0.13,"s":0.03,"l":0.07,"n":0.1,"r":-0.05,"c":-0.02},
{"t":2017.75,"d":0.213,"s":0.03,"l":0.09,"n":0.1,"r":-0.04,"c":0.03},
{"t":2018,"d":0.193,"s":0.02,"l":0.1,"n":0.1,"r":-0.04,"c":0.01},
{"t":2018.25,"d":0.155,"s":0.02,"l":0.08,"n":0.1,"r":-0.05,"c":0},
{"t":2018.5,"d":0.12,"s":0.02,"l":0.05,"n":0.1,"r":-0.06,"c":0.01},
{"t":2018.75,"d":0.027,"s":0,"l":0.02,"n":0.08,"r":-0.06,"c":-0.01},
{"t":2019,"d":0.052,"s":0.01,"l":0.02,"n":0.08,"r":-0.05,"c":-0.01},
{"t":2019.25,"d":0.048,"s":0.01,"l":0.02,"n":0.07,"r":-0.05,"c":0},
{"t":2019.5,"d":0.052,"s":0.01,"l":0.02,"n":0.07,"r":-0.04,"c":-0.01},
{"t":2019.75,"d":0.048,"s":0,"l":0.01,"n":0.06,"r":-0.03,"c":0.01},
{"t":2020,"d":-0.205,"s":-0.12,"l":0,"n":0.04,"r":-0.09,"c":-0.04},
{"t":2020.25,"d":-0.35,"s":-0.25,"l":-0.01,"n":0.03,"r":-0.07,"c":-0.05},
{"t":2020.5,"d":0.238,"s":0.2,"l":0,"n":0.02,"r":0.01,"c":0.01}
]
},
"hconcat":[
{
 "width":509,"height":403,
 "title":"Scale",
 "resolve":{"axis":{"x":"independent","y":"independent"}},
 "layer":[
  {"data":{"name":"bands"},"mark":{"type":"rect","color":"#e5e5e5","clip":true},
   "encoding":{"x":{"field":"x0","type":"quantitative","title":null,"scale":{"domain":[1974,2020.5],"nice":false,"zero":false},"axis":{"values":[1975,1980,1985,1990,1995,2000,2005,2010,2015,2020],"format":"d"}},"x2":{"field":"x1"}}},
  {"data":{"name":"left"},
   "transform":[{"fold":["s","l","n","r","c"],"as":["k","v"]},{"lookup":"k","from":{"data":{"name":"comp"},"key":"k","fields":["o","name"]}}],
   "mark":{"type":"area","clip":true,"opacity":1},
   "encoding":{
    "x":{"field":"t","type":"quantitative","title":null,"axis":{"orient":"top","labels":false,"values":[1975,1980,1985,1990,1995,2000,2005,2010,2015,2020]}},
    "y":{"field":"v","type":"quantitative","stack":"zero","title":null,"scale":{"domain":[-0.5,1.2],"nice":false,"zero":false},"axis":{"values":[-0.4,-0.2,0,0.2,0.4,0.6,0.8,1,1.2],"format":"~g"}},
    "color":{"field":"name","type":"nominal","scale":{"domain":["γ̃ₜ","leverage","risk","score","NFleverage","credit"],"range":["#000000","#77AC30","#A2142F","#EDB120","#7E2F8E","#4DBEEE"]},
     "legend":{"orient":"none","legendX":280,"legendY":10,"columns":2,"title":null,"padding":0,"rowPadding":0,"columnPadding":0,"symbolSize":400,"symbolType":"M-1.7,-0.22H-0.3V0.22H-1.7Z M1.1,-0.22H1.8V0.22H1.1Z","labelFont":"Times New Roman, Liberation Serif, serif","labelFontSize":16,"labelColor":"black","labelOffset":12,"symbolOpacity":1,
      "encode":{"symbols":{"update":{"shape":{"signal":"datum.value === 'γ̃ₜ' ? 'M-1.7,0H1.8M0,-0.4V0.4M-0.35,-0.2L0.35,0.2M-0.35,0.2L0.35,-0.2' : 'M-1.7,-0.22H-0.3V0.22H-1.7Z M1.1,-0.22H1.8V0.22H1.1Z'"},"stroke":{"signal":"datum.value === 'γ̃ₜ' ? 'black' : 'transparent'"},"strokeWidth":{"value":1.3}}}}}},
    "order":{"field":"o","type":"quantitative"}}},
  {"data":{"name":"left"},"mark":{"type":"line","strokeWidth":1.2,"clip":true},
   "encoding":{"x":{"field":"t","type":"quantitative","axis":null},"y":{"field":"g","type":"quantitative","axis":null},"color":{"datum":"γ̃ₜ"}}},
  {"data":{"name":"left"},"mark":{"type":"point","shape":"M-1,0H1M0,-1V1M-0.7,-0.7L0.7,0.7M-0.7,0.7L0.7,-0.7","filled":false,"stroke":"black","strokeWidth":1.1,"size":64,"opacity":1,"clip":true},
   "encoding":{"x":{"field":"t","type":"quantitative","axis":null},"y":{"field":"g","type":"quantitative","title":null,"axis":{"orient":"right","labels":false,"values":[-0.4,-0.2,0,0.2,0.4,0.6,0.8,1,1.2]}}}}
 ]
},
{
 "width":510,"height":403,
 "title":"Shape",
 "resolve":{"axis":{"x":"independent","y":"independent"}},
 "layer":[
  {"data":{"name":"bands"},"mark":{"type":"rect","color":"#e5e5e5","clip":true},
   "encoding":{"x":{"field":"x0","type":"quantitative","title":null,"scale":{"domain":[1974.25,2020.5],"nice":false,"zero":false},"axis":{"values":[1975,1980,1985,1990,1995,2000,2005,2010,2015,2020],"format":"d"}},"x2":{"field":"x1"}}},
  {"data":{"name":"right"},
   "transform":[{"fold":["s","l","n","r","c"],"as":["k","v"]},{"lookup":"k","from":{"data":{"name":"comp"},"key":"k","fields":["o","name"]}}],
   "mark":{"type":"bar","size":2.8,"clip":true,"opacity":1},
   "encoding":{
    "x":{"field":"t","type":"quantitative","title":null,"axis":{"orient":"top","labels":false,"values":[1975,1980,1985,1990,1995,2000,2005,2010,2015,2020]}},
    "y":{"field":"v","type":"quantitative","stack":"zero","title":null,"scale":{"domain":[-1.5,1],"nice":false,"zero":false},"axis":{"values":[-1.5,-1,-0.5,0,0.5,1],"format":"~g"}},
    "color":{"field":"name","type":"nominal","scale":{"domain":["score","leverage","NFleverage","risk","credit"],"range":["#EDB120","#77AC30","#7E2F8E","#A2142F","#4DBEEE"]},"legend":null},
    "order":{"field":"o","type":"quantitative"}}},
  {"data":{"name":"right"},"mark":{"type":"line","strokeWidth":1.2,"clip":true},
   "encoding":{"x":{"field":"t","type":"quantitative","axis":null},"y":{"field":"d","type":"quantitative","axis":null},
    "stroke":{"datum":"δ̃ₜ","scale":{"range":["black"]},"legend":{"orient":"none","legendX":444,"legendY":71,"title":null,"padding":0,"symbolSize":400,"symbolType":"M-1.75,0H1.75M-0.2,0L0,-0.2L0.2,0L0,0.2Z","symbolStrokeWidth":1.3,"symbolStrokeColor":"black","symbolFillColor":"black","labelFont":"Times New Roman, Liberation Serif, serif","labelFontSize":21,"labelColor":"black","labelOffset":13}}}},
  {"data":{"name":"right"},"mark":{"type":"point","shape":"M-1,0H1M0,-1V1M-0.7,-0.7L0.7,0.7M-0.7,0.7L0.7,-0.7","filled":false,"stroke":"black","strokeWidth":1.1,"size":64,"opacity":1,"clip":true},
   "encoding":{"x":{"field":"t","type":"quantitative","axis":null},"y":{"field":"d","type":"quantitative","title":null,"axis":{"orient":"right","labels":false,"values":[-1.5,-1,-0.5,0,0.5,1]}}}}
 ]
}
]
}
